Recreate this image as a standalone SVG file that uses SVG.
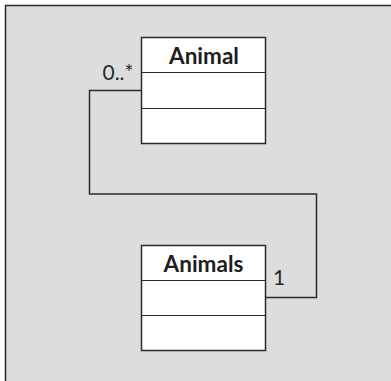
<svg xmlns="http://www.w3.org/2000/svg" width="391" height="381" viewBox="0 0 391 381">
<style>
.frame{fill:#dcdddf;stroke:#2b2b2b;stroke-width:1.5}
.box{fill:#ffffff;stroke:#2b2b2b;stroke-width:1.5}
.div{stroke:#2b2b2b;stroke-width:1.2}
.title{font-family:Lato,"Open Sans",sans-serif;font-weight:bold;font-size:22.5px;fill:#1e1e1e;text-anchor:middle}
.mult{font-family:Lato,"Open Sans",sans-serif;font-size:21px;fill:#2b2b2b}
.conn{fill:none;stroke:#2b2b2b;stroke-width:1.5}
</style>
<rect class="frame" x="5.5" y="5.5" width="400" height="400"/>
<g id="connectors">
<polyline class="conn" points="141.5,90.5 89.5,90.5 89.5,194 316.5,194 316.5,297.5 265.5,297.5"/>
<text class="mult" x="133.5" y="79.5" text-anchor="end">0..*</text>
<text class="mult" x="273" y="285">1</text>
</g>
<g id="animal">
<rect class="box" x="141.5" y="37.5" width="124" height="106"/>
<line class="div" x1="141.5" y1="72.5" x2="265.5" y2="72.5"/>
<line class="div" x1="141.5" y1="108.5" x2="265.5" y2="108.5"/>
<text class="title" x="204" y="64.3">Animal</text>
</g>
<g id="animals">
<rect class="box" x="141.5" y="245.5" width="124" height="105"/>
<line class="div" x1="141.5" y1="280.5" x2="265.5" y2="280.5"/>
<line class="div" x1="141.5" y1="315.5" x2="265.5" y2="315.5"/>
<text class="title" x="203.5" y="272.3">Animals</text>
</g>
</svg>
